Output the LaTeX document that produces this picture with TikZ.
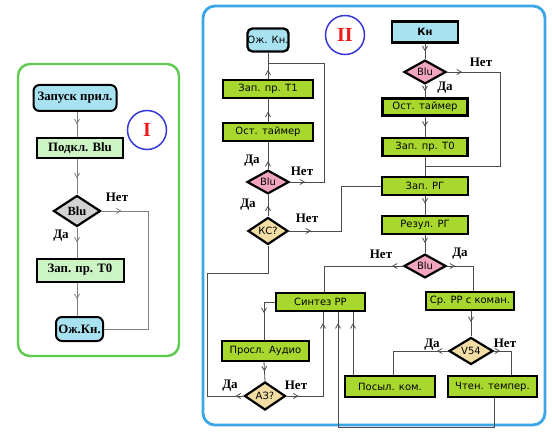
\documentclass[tikz,border=0pt]{standalone}
\usepackage{fontspec}
\setmainfont{Liberation Serif}
\newfontfamily\sansf{DejaVu Sans}
\usetikzlibrary{shapes.geometric,arrows.meta,decorations.markings,calc}
\definecolor{cyanc}{HTML}{A8E2F0}
\definecolor{pgreen}{HTML}{CCF4C4}
\definecolor{lime}{HTML}{A8D82E}
\definecolor{pinkd}{HTML}{F2A6BE}
\definecolor{tand}{HTML}{F2DEA4}
\definecolor{grayd}{HTML}{D2D2D2}
\definecolor{frameg}{HTML}{5CCB4E}
\definecolor{frameb}{HTML}{3AA6E6}
\definecolor{circb}{HTML}{3838D8}
\definecolor{redt}{HTML}{EE1A1A}
\tikzset{
  tipb/.tip={Straight Barb[length=4.5pt,width=5pt,line width=0.8pt]},
  arrowat/.style={postaction={decorate,decoration={markings,mark=at position #1 with {\arrow{tipb}}}}},
  arrowtwo/.style 2 args={postaction={decorate,decoration={markings,mark=at position #1 with {\arrow{tipb}},mark=at position #2 with {\arrow{tipb}}}}},
  flowa/.style={draw=black!50, line width=0.9pt},
  flowb/.style={draw=black!70, line width=0.8pt},
  onebox/.style={rectangle, draw=black, line width=2pt, fill=pgreen, inner sep=0pt,
    font=\bfseries\fontsize{12.8}{14}\selectfont},
  oneterm/.style={onebox, rounded corners=6pt, fill=cyanc},
  twobox/.style={rectangle, draw=black, line width=2.3pt, fill=lime, inner sep=0pt,
    font=\sansf\fontsize{10}{12}\selectfont},
  twoterm/.style={twobox, rounded corners=5pt, fill=cyanc},
  dia/.style={diamond, draw=black, line width=2.2pt, inner sep=0pt, font=\sansf\fontsize{10}{12}\selectfont},
  lbl/.style={inner sep=0pt, font=\bfseries\fontsize{13}{15}\selectfont},
  numc/.style={circle, draw=circb, line width=1.5pt, minimum size=39pt, inner sep=0pt,
    text=redt, font=\bfseries\fontsize{20}{20}\selectfont}
}
\begin{document}
\begin{tikzpicture}[x=1pt,y=-1pt]
\useasboundingbox[fill=white] (0,0) rectangle (552,433);
% frames
\draw[frameg, line width=2.4pt, rounded corners=12pt] (18,64) rectangle (179,356);
\draw[frameb, line width=2.8pt, rounded corners=12pt] (203,6) rectangle (545,425);
% ---------- panel I ----------
\node[numc] (n1) at (147,130) {I};
\node[oneterm, minimum width=83, minimum height=26] (s) at (75,98) {Запуск прил.};
\node[onebox, minimum width=86, minimum height=20] (c) at (80,148) {Подкл. Blu};
\node[dia, fill=grayd, minimum width=47, minimum height=31, font=\bfseries\fontsize{12.5}{14}\selectfont] (b) at (77,211) {Blu};
\node[onebox, minimum width=87, minimum height=23] (z) at (80,270) {Зап. пр. T0};
\node[oneterm, minimum width=47, minimum height=24] (w) at (79.5,329) {Ож.Кн.};
\draw[flowa, arrowat=0.5] (b.north |- s.south) -- (b.north |- c.north);
\draw[flowa, arrowat=0.55] (b.north |- c.south) -- (b.north);
\draw[flowa, arrowat=0.5] (b.south) -- (b.south |- z.north);
\draw[flowa, arrowat=0.5] (b.south |- z.south) -- (b.south |- w.north);
\draw[flowa, arrowat=20pt] (b.east) -- ++(47,0) |- (w.east);
\node[lbl] (l1) at (117,197) {Нет};
\node[lbl] (l2) at (61,236) {Да};
% ---------- panel II ----------
\node[numc] (n2) at (345,35) {II};
% left column
\node[twoterm, minimum width=41, minimum height=23] (wk) at (268,40) {Ож. Кн.};
\node[twobox, minimum width=90, minimum height=18] (t1) at (268,89) {Зап. пр. T1};
\node[twobox, minimum width=90, minimum height=18] (ot1) at (268,132) {Ост. таймер};
\node[dia, fill=pinkd, minimum width=42, minimum height=23] (bl1) at (268,182) {Blu};
\node[dia, fill=tand, minimum width=40, minimum height=25] (kc) at (268,231) {КС?};
\node[twobox, minimum width=89, minimum height=18] (sin) at (320.5,302) {Синтез РР};
\node[twobox, minimum width=87, minimum height=20] (pa) at (265.5,351) {Просл. Аудио};
\node[dia, fill=tand, minimum width=41, minimum height=28] (az) at (265,396) {АЗ?};
\coordinate (j1) at (268,63);
% right column
\node[twobox, fill=cyanc, minimum width=66, minimum height=21, font=\sansf\bfseries\fontsize{10}{12}\selectfont] (kn) at (425,32) {Кн};
\node[dia, fill=pinkd, minimum width=42, minimum height=23] (bl2) at (425,72) {Blu};
\node[twobox, minimum width=85, minimum height=17] (ot2) at (425,107) {Ост. таймер};
\node[twobox, minimum width=85, minimum height=18] (t0) at (425,147) {Зап. пр. T0};
\node[twobox, minimum width=86, minimum height=18] (zrg) at (425,186) {Зап. РГ};
\node[twobox, minimum width=86, minimum height=18] (rrg) at (425,225) {Резул. РГ};
\node[dia, fill=pinkd, minimum width=42, minimum height=23] (bl3) at (425,266) {Blu};
\node[twobox, minimum width=88, minimum height=18] (srp) at (470,301) {Ср. РР с коман.};
\node[dia, fill=tand, minimum width=44, minimum height=25] (v54) at (471,351) {V54};
\node[twobox, minimum width=90, minimum height=21] (pk) at (390,386.5) {Посыл. ком.};
\node[twobox, minimum width=89, minimum height=21] (ct) at (492.5,386.5) {Чтен. темпер.};
\coordinate (j2) at (425,166.5);
% left column connectors
\draw[flowb, arrowat=9pt] (t1.north) -- (wk.south);
\draw[flowb, arrowat=0.45] (ot1.north) -- (t1.south);
\draw[flowb, arrowat=8pt] (bl1.north) -- (ot1.south);
\draw[flowb, arrowat=0.5] (kc.north) -- (bl1.south);
\draw[flowb, arrowat=15pt] (bl1.east) -- ++(34,0) |- (j1);
\draw[flowb, arrowat=22pt] (kc.east) -- ++(52,0) |- (zrg.west);
\draw[flowb, arrowat=8pt] (az.west) -- ++(-36,0) |- ($(kc.south)+(0,28)$) -- (kc.south);
\draw[flowb, arrowtwo={12pt}{-11pt}] (az.east) -| ([xshift=2.5pt]sin.south);
\draw[flowb, arrowat=22pt] (sin.west) -| ([xshift=-1.5pt]pa.north);
\draw[flowb, arrowat=0.5] ([xshift=-1.5pt]pa.south) -- (az.north);
% right column connectors
\draw[flowb, arrowat=0.5] (kn.south) -- (bl2.north);
\draw[flowb, arrowat=0.5] (bl2.south) -- (ot2.north);
\draw[flowb, arrowat=0.5] (ot2.south) -- (t0.north);
\draw[flowb] (t0.south) -- (zrg.north);
\draw[flowb, arrowat=15pt] (bl2.east) -- ++(53,0) |- (j2);
\draw[flowb, arrowat=0.4] (zrg.south) -- (rrg.north);
\draw[flowb, arrowat=8pt] (rrg.south) -- (bl3.north);
\draw[flowb, arrowat=11pt] (bl3.west) -| ([xshift=3.5pt]sin.north);
\draw[flowb, arrowat=8pt] (bl3.east) -| ([xshift=3pt]srp.north);
\draw[flowb, arrowat=11pt] ([xshift=1pt]srp.south) -- (v54.north);
\draw[flowb, arrowat=11pt] (v54.west) -| ([xshift=3pt]pk.north);
\draw[flowb, arrowat=6pt] (v54.east) -| ([xshift=18.5pt]ct.north);
\draw[flowb, arrowat=-11pt] ([xshift=-37pt]pk.north) -- ([xshift=32.5pt]sin.south);
\draw[flowb, arrowat=-11pt] ([xshift=1.5pt]ct.south) -- ++(0,29) -| ([xshift=17.5pt]sin.south);
% labels
\node[lbl] (la) at (252,161) {Да};
\node[lbl] (lb) at (302,171) {Нет};
\node[lbl] (lc) at (248,205) {Да};
\node[lbl] (ld) at (307,218) {Нет};
\node[lbl] (le) at (230,386) {Да};
\node[lbl] (lf) at (296,385) {Нет};
\node[lbl] (lg) at (381,254) {Нет};
\node[lbl] (lh) at (460,254) {Да};
\node[lbl] (li) at (432,345) {Да};
\node[lbl] (lj) at (505,343) {Нет};
\node[lbl] (lk) at (481,62) {Нет};
\node[lbl] (ll) at (445,88) {Да};
\end{tikzpicture}
\end{document}
